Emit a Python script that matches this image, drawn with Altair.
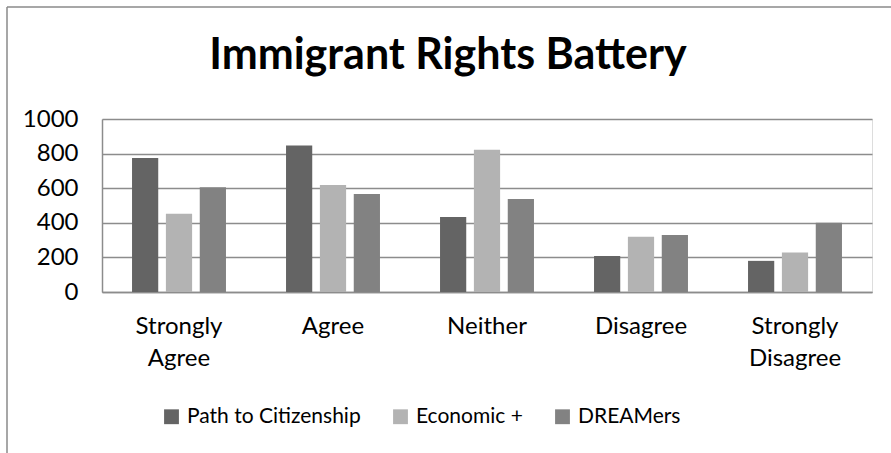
import altair as alt
import pandas as pd

categories = ["Strongly Agree", "Agree", "Neither", "Disagree", "Strongly Disagree"]
series = ["Path to Citizenship", "Economic +", "DREAMers"]
path_vals = [774, 847, 434, 208, 180]
econ_vals = [453, 618, 822, 320, 228]
dream_vals = [606, 566, 538, 330, 401]
colors = ["#646464", "#b3b3b3", "#828282"]
y_ticks = [0, 200, 400, 600, 800, 1000]
title_text = "Immigrant Rights Battery"

rows = []
for s, vals in zip(series, [path_vals, econ_vals, dream_vals]):
    for c, v in zip(categories, vals):
        rows.append({"cat": c, "series": s, "value": v})
df = pd.DataFrame(rows)

FONT = "Lato"
GRID = "#8c8c8c"

bars = alt.Chart(df).mark_bar().encode(
    x=alt.X("cat:N", sort=categories, title=None,
            scale=alt.Scale(paddingInner=0.39, paddingOuter=0.195),
            axis=alt.Axis(labelAngle=0, ticks=False, domainColor=GRID, domainWidth=1.5,
                          labelPadding=22, labelFontSize=24, labelLineHeight=32,
                          labelExpr="split(datum.label, ' ')", labelColor="#000000",
                          labelFont=FONT, labelLimit=300)),
    xOffset=alt.XOffset("series:N", sort=series,
                        scale=alt.Scale(paddingInner=0.226, paddingOuter=0)),
    y=alt.Y("value:Q", title=None,
            scale=alt.Scale(domain=[0, 1000], nice=False),
            axis=alt.Axis(values=y_ticks, format="d", ticks=False, grid=True, gridColor=GRID,
                          gridWidth=1.5, domainColor=GRID, domainWidth=1.5,
                          labelPadding=24, labelFontSize=24, labelColor="#000000",
                          labelFont=FONT)),
    color=alt.Color("series:N", sort=series,
                    scale=alt.Scale(domain=series, range=colors),
                    legend=alt.Legend(title=None, orient="none", direction="horizontal",
                                      legendX=59, legendY=287, symbolType="square",
                                      symbolSize=220, symbolStrokeWidth=0,
                                      labelFontSize=21, labelFont=FONT, labelColor="#000000",
                                      labelOffset=5, columnPadding=29, labelLimit=400)),
)

frame_df = pd.DataFrame({"k": [0]})
left_line = alt.Chart(frame_df).mark_rule(color="#8a8a8a", strokeWidth=1.5).encode(
    x=alt.value(-95), y=alt.value(-112), y2=alt.value(360))
top_line = alt.Chart(frame_df).mark_rule(color="#8a8a8a", strokeWidth=1.5).encode(
    x=alt.value(-95), x2=alt.value(800), y=alt.value(-112))
title_df = pd.DataFrame({"t": [title_text]})
title = alt.Chart(title_df).mark_text(
    font=FONT, fontSize=43, fontWeight="bold", color="#000000",
    align="center", baseline="alphabetic").encode(
    text="t:N", x=alt.value(346), y=alt.value(-50))

chart = alt.layer(bars, left_line, top_line, title).properties(
    width=770, height=173,
    autosize=alt.AutoSizeParams(type="none"),
    padding={"left": 102, "top": 119, "right": 19, "bottom": 161},
).configure_view(stroke=None).configure(background="white")

chart.save("out.html", embed_options={"renderer": "svg", "actions": False})
